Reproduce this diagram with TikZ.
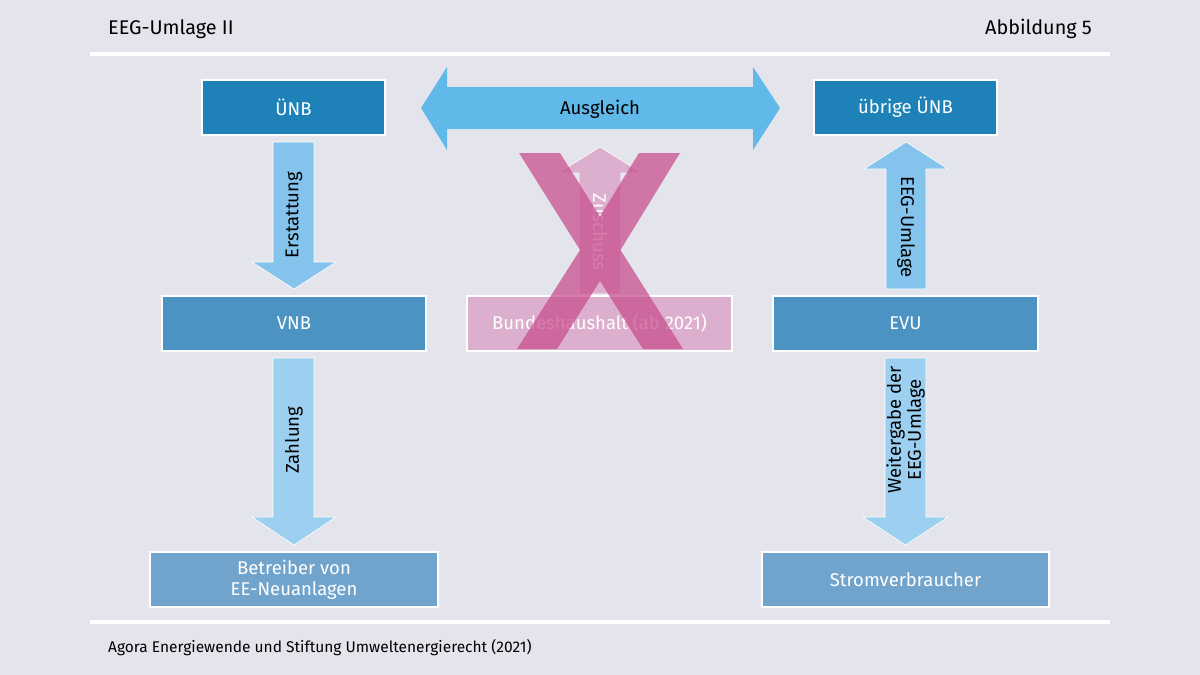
\documentclass[tikz,border=0pt]{standalone}
\usepackage{fontspec}
\setmainfont{Fira Sans}
\definecolor{bg}{HTML}{E4E5EC}
\definecolor{unb}{HTML}{1E82B8}
\definecolor{vnb}{HTML}{4A93C3}
\definecolor{low}{HTML}{70A4CD}
\definecolor{arrA}{HTML}{84C3EC}
\definecolor{arrB}{HTML}{9DCFF0}
\definecolor{ausg}{HTML}{60B9E8}
\definecolor{pinkbox}{HTML}{DDAFCE}
\definecolor{xpink}{HTML}{C8508F}
\tikzset{
  box/.style={draw=white, line width=2pt, text=white, inner sep=0pt,
    minimum height=55pt, align=center, font=\fontsize{18.5}{21}\selectfont},
  blockarrow/.style={draw=white, line width=0.6pt},
  lbl/.style={font=\fontsize{18.5}{21}\selectfont, text=black, align=center, inner sep=0pt},
}
\begin{document}
\begin{tikzpicture}[x=1pt,y=-1pt]
\fill[bg] (0,0) rectangle (1200,675);
\useasboundingbox (0,0) rectangle (1200,675);
% header / footer
\node[anchor=west, inner sep=0pt, font=\fontsize{19.8}{22}\selectfont] (title) at (108,29) {EEG-Umlage II};
\node[anchor=east, inner sep=0pt, font=\fontsize{19.8}{22}\selectfont] (fig) at (1092,29) {Abbildung 5};
\fill[white] (90,52) rectangle (1110,56);
\fill[white] (90,620) rectangle (1110,624);
\node[anchor=west, inner sep=0pt, font=\fontsize{15.5}{18}\selectfont] (src) at (108,648) {Agora Energiewende und Stiftung Umweltenergierecht (2021)};
% boxes
\node[box, fill=unb, minimum width=183pt] (unb) at (293.5,107.5) {ÜNB};
\node[box, fill=unb, minimum width=183pt] (uunb) at (905.5,107.5) {übrige ÜNB};
\node[box, fill=vnb, minimum width=264pt] (vnb) at (294,323.5) {VNB};
\node[box, fill=vnb, minimum width=265pt] (evu) at (905.5,323.5) {EVU};
\node[box, fill=low, minimum width=288pt] (betr) at (294,579.5) {Betreiber von\\EE-Neuanlagen};
\node[box, fill=low, minimum width=287pt] (strom) at (905.5,579.5) {Stromverbraucher};
% arrows
\filldraw[blockarrow, fill=arrA] (273,142)--(314,142)--(314,262)--(336,262)--(294,289)--(252,262)--(273,262)--cycle;
\node[lbl, rotate=90] (erst) at (294,215) {Erstattung};
\filldraw[blockarrow, fill=arrB] (273,358)--(314,358)--(314,517)--(336,517)--(294,545)--(252,517)--(273,517)--cycle;
\node[lbl, rotate=90] (zahl) at (294,440) {Zahlung};
\filldraw[blockarrow, fill=arrA] (886,289)--(926,289)--(926,169)--(948,169)--(906,142)--(864,169)--(886,169)--cycle;
\node[lbl, rotate=-90] (eeg) at (906,227) {EEG-Umlage};
\filldraw[blockarrow, fill=arrB] (885,358)--(926,358)--(926,517)--(948,517)--(905.5,545)--(863,517)--(885,517)--cycle;
\node[lbl, rotate=90, font=\fontsize{18.5}{20}\selectfont] (weit) at (905.5,430) {Weitergabe der\\EEG-Umlage};
\fill[ausg] (421,108)--(447,67)--(447,87)--(753,87)--(753,67)--(780,108)--(753,150)--(753,129)--(447,129)--(447,150)--cycle;
\node[lbl] (ausgl) at (600,109) {Ausgleich};
% Zuschuss / Bundeshaushalt
\filldraw[blockarrow, fill=pinkbox] (579,294)--(621,294)--(621,173)--(642,173)--(600,147)--(558,173)--(579,173)--cycle;
\node[lbl, rotate=-90, text=white] (zusch) at (600,232) {Zuschuss};
\node[box, fill=pinkbox, minimum width=265pt] (bund) at (599.5,323.5) {Bundeshaushalt (ab 2021)};
% X
\fill[xpink, fill opacity=0.74] (519,153)--(560,153)--(600,216.5)--(639,153)--(680,153)--(620.5,250)--(683,349)--(643,349)--(600,281)--(557,349)--(517,349)--(580,250)--cycle;
\end{tikzpicture}
\end{document}
